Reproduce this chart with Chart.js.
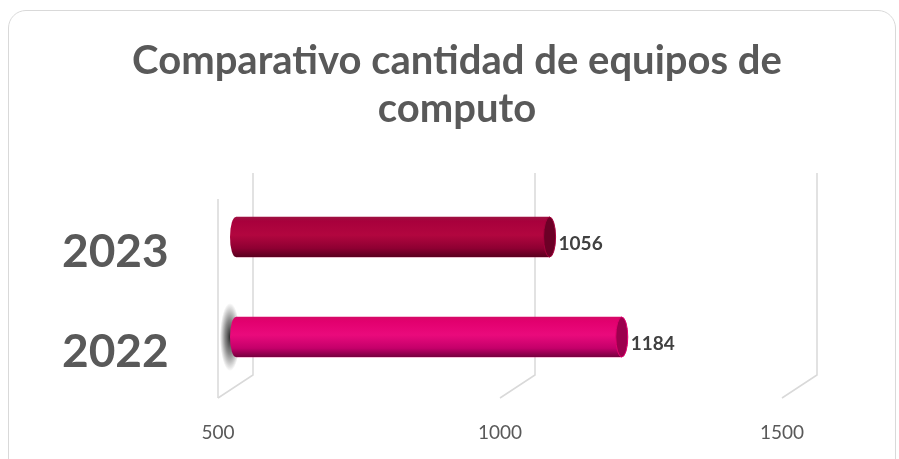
<!DOCTYPE html>
<html>
<head>
<meta charset="utf-8">
<script src="https://cdn.jsdelivr.net/npm/chart.js@4.4.0/dist/chart.umd.min.js"></script>
<style>
  body { margin: 0; background: #fff; }
  #wrap { position: relative; width: 899px; height: 459px; overflow: hidden; }
  #frame { position: absolute; left: 8px; top: 10px; width: 886px; height: 480px;
           border: 1px solid #d9d9d9; border-radius: 18px; pointer-events: none; }
  canvas { position: absolute; left: 0; top: 0; }
</style>
</head>
<body>
<div id="wrap">
  <canvas id="equipos" width="899" height="459"></canvas>
  <div id="frame"></div>
</div>
<script>
// ===== COMPARATIVO EQUIPOS =====
const years = ['2023', '2022'];
const equipos = [1056, 1184];
const xTicks = [500, 1000, 1500];
const barColors = ['#a8003c', '#e2006e'];

// gradient stops per bar (cylinder look)
const barShades = [
  ['#9c1242', '#a8003c', '#b2063f', '#8e0032', '#5a001e'],
  ['#d40a66', '#e2006e', '#ea0a7c', '#c4006a', '#76003e']
];
const capColors = ['#6c0026', '#9c004e'];

const depth = { back: 17, front: -18 };

// 3D walls, grid lines and cylinders
const cylinderPlugin = {
  id: 'cylinders',
  beforeDatasetsDraw(chart) {
    const { ctx, chartArea, scales: { x } } = chart;
    const topBack = chartArea.top - 14;
    const bottomBack = chartArea.bottom - 12;
    const bottomFront = chartArea.bottom + 11;
    ctx.save();
    ctx.strokeStyle = '#d9d9d9';
    ctx.lineWidth = 1.5;
    xTicks.forEach(v => {
      const px = x.getPixelForValue(v);
      ctx.beginPath();
      ctx.moveTo(px + depth.back, topBack);
      ctx.lineTo(px + depth.back, bottomBack);
      ctx.lineTo(px + depth.front, bottomFront);
      ctx.stroke();
    });
    // left wall front edge
    const p0 = x.getPixelForValue(xTicks[0]);
    ctx.beginPath();
    ctx.moveTo(p0 + depth.front, topBack + 26);
    ctx.lineTo(p0 + depth.front, bottomFront);
    ctx.stroke();
    ctx.restore();
  },
  afterDatasetsDraw(chart) {
    const { ctx } = chart;
    const meta = chart.getDatasetMeta(0);
    meta.data.forEach((bar, i) => {
      const h = bar.height;
      const top = bar.y - h / 2;
      const rx = 6;
      const ry = h / 2;
      ctx.save();
      // soft shadow behind the longest bar's start
      if (i === 1) {
        const g = ctx.createRadialGradient(0, 0, 0, 0, 0, 1);
        g.addColorStop(0, 'rgba(30,30,30,0.95)');
        g.addColorStop(0.5, 'rgba(60,60,60,0.6)');
        g.addColorStop(1, 'rgba(60,60,60,0)');
        ctx.save();
        ctx.translate(bar.base - 6, bar.y);
        ctx.scale(10, ry + 14);
        ctx.fillStyle = g;
        ctx.beginPath();
        ctx.arc(0, 0, 1, 0, Math.PI * 2);
        ctx.fill();
        ctx.restore();
      }
      const grad = ctx.createLinearGradient(0, top, 0, top + h);
      const s = barShades[i];
      grad.addColorStop(0, s[0]);
      grad.addColorStop(0.1, s[1]);
      grad.addColorStop(0.45, s[2]);
      grad.addColorStop(0.78, s[3]);
      grad.addColorStop(1, s[4]);
      ctx.fillStyle = grad;
      ctx.beginPath();
      ctx.ellipse(bar.base, bar.y, rx, ry, 0, Math.PI / 2, Math.PI * 1.5);
      ctx.lineTo(bar.x, top);
      ctx.lineTo(bar.x, top + h);
      ctx.closePath();
      ctx.fill();
      // end cap
      ctx.fillStyle = capColors[i];
      ctx.beginPath();
      ctx.ellipse(bar.x, bar.y, rx, ry, 0, 0, Math.PI * 2);
      ctx.fill();
      ctx.strokeStyle = s[1];
      ctx.lineWidth = 1;
      ctx.stroke();
      // value label
      ctx.fillStyle = '#404040';
      ctx.font = 'bold 19px Lato, "Open Sans", sans-serif';
      ctx.textBaseline = 'middle';
      ctx.textAlign = 'left';
      ctx.fillText(String(equipos[i]), bar.x + rx + 3, bar.y + 7);
      ctx.restore();
    });
  }
};

new Chart(document.getElementById('equipos'), {
  type: 'bar',
  data: {
    labels: years,
    datasets: [{
      label: 'Equipos',
      data: equipos,
      base: xTicks[0],
      backgroundColor: barColors,
      barThickness: 40,
      borderSkipped: false
    }]
  },
  options: {
    indexAxis: 'y',
    responsive: false,
    animation: false,
    layout: { padding: { left: 62, right: 47, top: 1, bottom: 0 } },
    plugins: {
      legend: { display: false },
      tooltip: { enabled: false },
      title: {
        display: true,
        text: ['Comparativo cantidad de equipos de', 'computo'],
        color: '#595959',
        font: { family: 'Lato, "Open Sans", sans-serif', size: 40, weight: 'bold', lineHeight: 1.2 },
        padding: { top: 36, bottom: 54 }
      }
    },
    scales: {
      x: {
        min: 500,
        max: 1500,
        afterFit(scale) { scale.height = 72; },
        grid: { display: false },
        border: { display: false },
        ticks: {
          stepSize: 500,
          labelOffset: -18,
          padding: 26,
          color: '#595959',
          font: { family: 'Lato, "Open Sans", sans-serif', size: 19 },
          callback: v => String(v)
        }
      },
      y: {
        afterFit(scale) { scale.width = 174; },
        grid: { display: false },
        border: { display: false },
        ticks: {
          padding: 0,
          crossAlign: 'far',
          labelOffset: 15,
          color: '#595959',
          font: { family: 'Lato, "Open Sans", sans-serif', size: 46, weight: 'bold' }
        }
      },
      y2: {
        type: 'category',
        labels: years,
        position: 'right',
        afterFit(scale) { scale.width = 52; },
        grid: { display: false },
        border: { display: false },
        ticks: { display: false }
      }
    }
  },
  plugins: [cylinderPlugin]
});
</script>
</body>
</html>
